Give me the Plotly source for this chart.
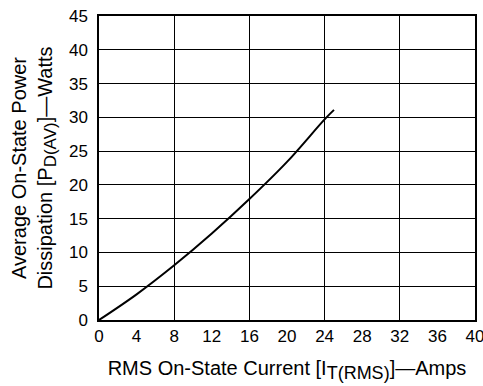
import plotly.graph_objects as go

# ── Data ──────────────────────────────────────────────────────────────────────
current_rms = [0, 4, 8, 12, 16, 20, 24, 25]
power_avg = [0, 3.8, 8.1, 12.8, 17.9, 23.4, 29.7, 31.1]

x_ticks = list(range(0, 41, 4))
y_ticks = list(range(0, 46, 5))

_FONT = dict(family="Liberation Sans, Arial, sans-serif", color="#000000", size=17)
_SUB = "<sub><span style='font-size:{}px'>{}</span></sub>"

fig = go.Figure(go.Scatter(
    x=current_rms,
    y=power_avg,
    mode="lines",
    line=dict(color="#000000", width=2, shape="spline", smoothing=1.0),
    showlegend=False,
))

fig.update_layout(
    width=483,
    height=386,
    margin=dict(l=99, r=8, t=16, b=66),
    paper_bgcolor="white",
    plot_bgcolor="white",
    font=_FONT,
    xaxis=dict(
        range=[0, 40],
        tickvals=x_ticks,
        showgrid=False,
        zeroline=False,
        showline=True,
        linecolor="#000000",
        linewidth=1.5,
        mirror=True,
        ticks="",
        ticklabelstandoff=0,
        ticklabeloverflow="allow",
        automargin=False,
        title=dict(text="RMS On-State Current [I" + _SUB.format(18, "T(RMS)") + "]—Amps",
                   font=dict(family="Liberation Sans, Arial, sans-serif", size=20, color="#000000"),
                   standoff=16),
    ),
    xaxis2=dict(
        range=[0, 40],
        overlaying="x",
        matches="x",
        dtick=8,
        showgrid=True,
        gridcolor="#000000",
        gridwidth=1,
        showticklabels=False,
        zeroline=False,
        automargin=False,
    ),
    yaxis=dict(
        range=[0, 45],
        tickvals=y_ticks,
        showgrid=True,
        gridcolor="#000000",
        gridwidth=1,
        zeroline=False,
        showline=True,
        linecolor="#000000",
        linewidth=1.5,
        mirror=True,
        ticks="",
        ticklabelstandoff=6,
        ticklabeloverflow="allow",
        automargin=False,
        title=dict(text="Average On-State Power<br>Dissipation [P" + _SUB.format(17, "D(AV)") + "]—Watts",
                   standoff=11),
    ),
)

# invisible trace so the grid axis gets drawn
fig.add_trace(go.Scatter(x=[0], y=[0], xaxis="x2", mode="markers",
                         marker=dict(opacity=0), showlegend=False, hoverinfo="skip"))

# drop the browser's default 8px body margin so the figure sits at the page corner
fig.write_html("out.html", config={"displayModeBar": False},
               post_script="document.body.style.margin='0';")
